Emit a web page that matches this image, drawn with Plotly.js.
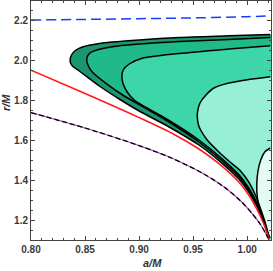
<!DOCTYPE html>
<html><head><meta charset="utf-8">
<script src="https://cdn.plot.ly/plotly-3.0.1.min.js"></script>
<style>html,body{margin:0;padding:0;background:#fff}#chart{width:273px;height:271px}</style>
</head><body><div id="chart"></div>
<script>
// ---- data ----
var blueA = [0.80, 0.85, 0.90, 0.95, 1.00, 1.0221];
var blueR = [2.200, 2.203, 2.2065, 2.2105, 2.2165, 2.2205];

var redA = [0.8000, 0.8447, 0.9001, 0.9300, 0.9554, 0.9739, 0.9923, 1.0015, 1.0089, 1.0154, 1.0205];
var redR = [1.9485, 1.845, 1.712, 1.635, 1.555, 1.482, 1.39, 1.325, 1.255, 1.18, 1.105];

var dashA = [0.80, 0.85, 0.90, 0.93, 0.96, 0.98, 0.995, 1.005, 1.012, 1.017, 1.0205];
var dashR = [1.737, 1.66, 1.572, 1.51, 1.43, 1.36, 1.29, 1.23, 1.18, 1.135, 1.10];

// region 1 (outermost, darkest)
var reg1UpA = [0.8362, 0.8374, 0.8411, 0.8475, 0.8632, 0.9001, 0.9370, 0.9831, 1.0214];
var reg1UpR = [1.9915, 2.025, 2.0475, 2.065, 2.0825, 2.10, 2.1125, 2.121, 2.1275];
var reg1LoA = [0.8362, 0.8383, 0.8447, 0.8632, 0.8816, 0.9001, 0.9278, 0.9554, 0.9739, 0.9923, 1.0015, 1.0089, 1.0154, 1.0205];
var reg1LoR = [1.9915, 1.97, 1.945, 1.87, 1.805, 1.745, 1.665, 1.575, 1.497, 1.405, 1.34, 1.27, 1.192, 1.105];
// region 2
var reg2UpA = [0.8515, 0.8526, 0.8567, 0.8752, 0.9001, 0.9370, 0.9831, 1.0214];
var reg2UpR = [2.0, 2.0225, 2.0415, 2.0665, 2.08, 2.0925, 2.1025, 2.1125];
var reg2LoA = [0.8515, 0.8531, 0.8567, 0.8694, 0.8863, 0.9066, 0.9278, 0.9554, 0.9739, 0.9923, 1.0015, 1.0089, 1.0154, 1.0205];
var reg2LoR = [2.0, 1.97, 1.94, 1.8835, 1.82, 1.7575, 1.69, 1.59, 1.51, 1.417, 1.352, 1.28, 1.198, 1.105];
// region 3
var reg3UpA = [0.8841, 0.8853, 0.8909, 0.9029, 0.9370, 0.9831, 1.0214];
var reg3UpR = [1.915, 1.95, 1.98, 2.0085, 2.0325, 2.055, 2.0715];
var reg3LoA = [0.8841, 0.8853, 0.8890, 0.8955, 0.9066, 0.9278, 0.9554, 0.9739, 0.9923, 1.0015, 1.0089, 1.0154, 1.0205];
var reg3LoR = [1.915, 1.88, 1.84, 1.80, 1.7625, 1.6975, 1.60, 1.52, 1.427, 1.36, 1.288, 1.205, 1.105];
// region 4 (mint)
var reg4UpA = [0.9539, 0.9541, 0.9564, 0.9619, 0.9693, 0.9831, 1.0016, 1.0214];
var reg4UpR = [1.715, 1.74, 1.785, 1.825, 1.86, 1.885, 1.9025, 1.9165];
var reg4LoA = [0.9539, 0.9550, 0.9570, 0.9631, 0.9739, 0.9831, 0.9939, 1.0015, 1.0080, 1.0135, 1.0181, 1.0205];
var reg4LoR = [1.715, 1.675, 1.65, 1.60, 1.54, 1.495, 1.445, 1.39, 1.32, 1.24, 1.16, 1.105];
// region 5 (palest, right edge)
var reg5A = [1.0214, 1.0163, 1.0126, 1.0099, 1.0089, 1.0094, 1.0117, 1.0154, 1.0186, 1.0214];
var reg5R = [1.56, 1.54, 1.50, 1.44, 1.375, 1.315, 1.25, 1.19, 1.14, 1.11];

var xTicks = [0.80, 0.85, 0.90, 0.95, 1.00];
var xTickText = ["0.80", "0.85", "0.90", "0.95", "1.00"];
var yTicks = [1.2, 1.4, 1.6, 1.8, 2.0, 2.2];
var yTickText = ["1.2", "1.4", "1.6", "1.8", "2.0", "2.2"];

// ---- build ----
var EDGE = 1.035;
function regionPoly(upA, upR, loA, loR) {
  var xs = [EDGE], ys = [upR[upR.length - 1]];
  for (var i = upA.length - 1; i >= 0; i--) { xs.push(upA[i]); ys.push(upR[i]); }
  for (var j = 1; j < loA.length; j++) { xs.push(loA[j]); ys.push(loR[j]); }
  xs.push(EDGE); ys.push(1.09);
  return {x: xs, y: ys};
}
function boundary(upA, upR, loA, loR) {
  var xs = [], ys = [];
  for (var i = upA.length - 1; i >= 0; i--) { xs.push(upA[i]); ys.push(upR[i]); }
  for (var j = 1; j < loA.length; j++) { xs.push(loA[j]); ys.push(loR[j]); }
  return {x: xs, y: ys};
}
var colors = ['#1a9670', '#1fba88', '#3dd6a8', '#97f0d6', '#e4fbf3'];
var regs = [
  [reg1UpA, reg1UpR, reg1LoA, reg1LoR],
  [reg2UpA, reg2UpR, reg2LoA, reg2LoR],
  [reg3UpA, reg3UpR, reg3LoA, reg3LoR],
  [reg4UpA, reg4UpR, reg4LoA, reg4LoR]
];
var traces = [];
regs.forEach(function (g, k) {
  var p = regionPoly(g[0], g[1], g[2], g[3]);
  traces.push({x: p.x, y: p.y, mode: 'lines', fill: 'toself', fillcolor: colors[k],
    line: {width: 0, shape: 'spline', smoothing: 0.8}, hoverinfo: 'skip', showlegend: false});
});
var p5x = [EDGE].concat(reg5A).concat([EDGE]);
var p5y = [reg5R[0]].concat(reg5R).concat([reg5R[reg5R.length - 1]]);
traces.push({x: p5x, y: p5y, mode: 'lines', fill: 'toself', fillcolor: colors[4],
  line: {width: 0, shape: 'spline', smoothing: 0.8}, showlegend: false});
regs.forEach(function (g) {
  var b = boundary(g[0], g[1], g[2], g[3]);
  traces.push({x: b.x, y: b.y, mode: 'lines', line: {color: '#000', width: 1.5, shape: 'spline', smoothing: 0.8}, showlegend: false});
});
traces.push({x: reg5A, y: reg5R, mode: 'lines', line: {color: '#000', width: 1.5, shape: 'spline', smoothing: 0.8}, showlegend: false});
traces.push({x: redA, y: redR, mode: 'lines', line: {color: '#ff1a1a', width: 1.5, shape: 'spline', smoothing: 0.8}, showlegend: false});
traces.push({x: dashA, y: dashR, mode: 'lines', line: {color: '#b050c0', width: 1.3, shape: 'spline', smoothing: 0.8}, showlegend: false});
traces.push({x: dashA, y: dashR, mode: 'lines', line: {color: '#000', width: 1.3, dash: '5px,3px', shape: 'spline', smoothing: 0.8}, showlegend: false});
traces.push({x: blueA, y: blueR, mode: 'lines', line: {color: '#1a3cff', width: 1.5, dash: '10px,5px', shape: 'spline'}, showlegend: false});

var tickFont = {family: 'Liberation Sans, Arial, sans-serif', size: 10, color: '#3a3a3a', weight: 'bold'};
var layout = {
  width: 273, height: 271,
  margin: {l: 31, r: 2, t: 1, b: 31},
  paper_bgcolor: '#fff', plot_bgcolor: '#fff',
  showlegend: false,
  xaxis: {range: [0.8, 1.0221], tickmode: 'array', tickvals: xTicks, ticktext: xTickText,
    ticks: 'inside', ticklen: 4, tickwidth: 1, tickcolor: '#444',
    minor: {dtick: 0.01, tick0: 0.8, ticks: 'inside', ticklen: 2, tickcolor: '#444', showgrid: false},
    showline: true, linecolor: '#444', linewidth: 1, mirror: 'allticks',
    showgrid: false, zeroline: false, tickfont: tickFont},
  yaxis: {range: [1.1, 2.295], tickmode: 'array', tickvals: yTicks, ticktext: yTickText,
    ticks: 'inside', ticklen: 4, tickwidth: 1, tickcolor: '#444',
    minor: {dtick: 0.05, tick0: 1.1, ticks: 'inside', ticklen: 2, tickcolor: '#444', showgrid: false},
    showline: true, linecolor: '#444', linewidth: 1, mirror: 'allticks',
    showgrid: false, zeroline: false, tickfont: tickFont},
  annotations: [
    {text: 'a/M', xref: 'paper', yref: 'paper', x: (152 - 31) / 240, y: -(263 - 240) / 239,
      xanchor: 'center', yanchor: 'middle', showarrow: false,
      font: {family: 'Liberation Sans, Arial, sans-serif', size: 11, color: '#333', weight: 'bold', style: 'italic'}},
    {text: 'r/M', xref: 'paper', yref: 'paper', x: (6 - 31) / 240, y: (240 - 103) / 239,
      xanchor: 'center', yanchor: 'middle', showarrow: false, textangle: -90,
      font: {family: 'Liberation Sans, Arial, sans-serif', size: 11, color: '#333', weight: 'bold', style: 'italic'}}
  ]
};
Plotly.newPlot('chart', traces, layout, {staticPlot: true, displayModeBar: false});
</script></body></html>
